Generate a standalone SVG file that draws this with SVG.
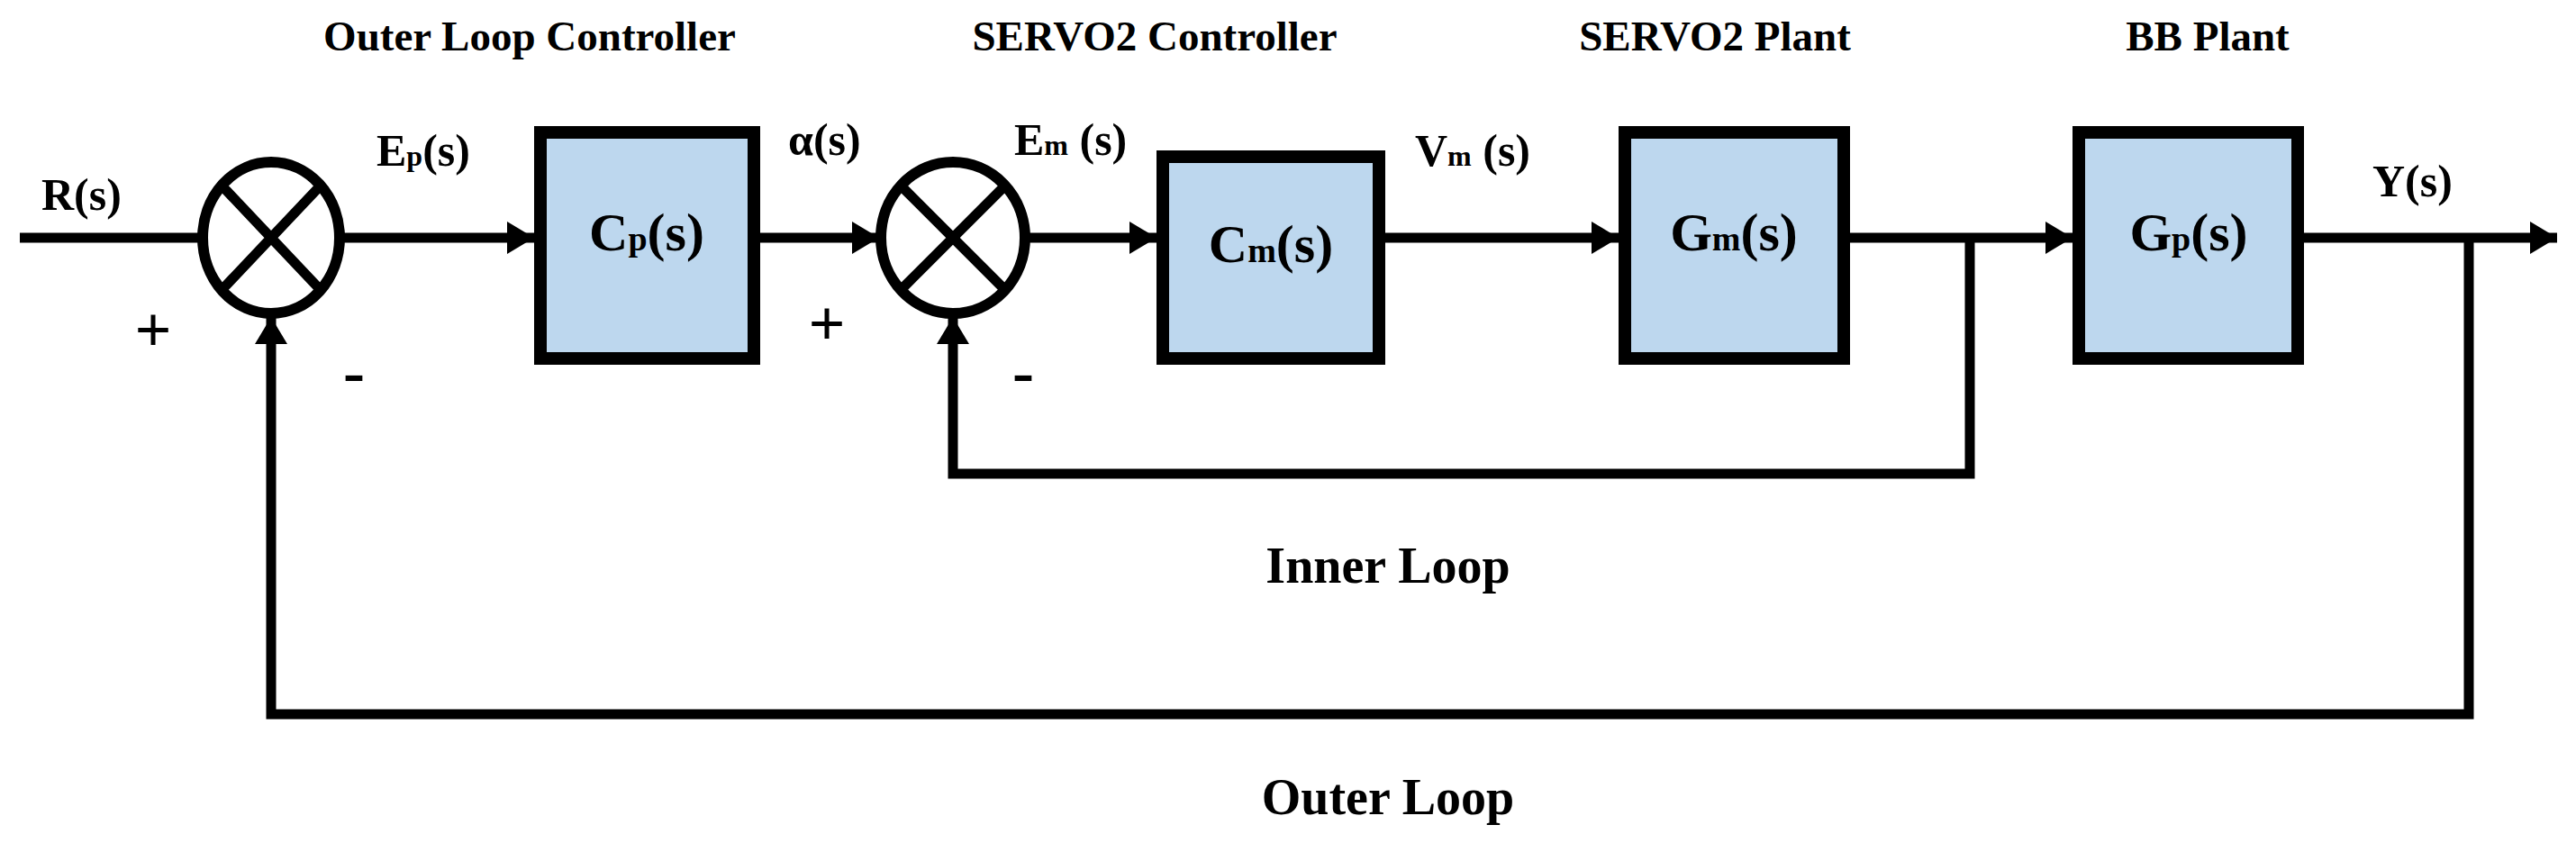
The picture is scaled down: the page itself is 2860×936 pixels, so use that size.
<svg xmlns="http://www.w3.org/2000/svg" width="2860" height="936" viewBox="0 0 2860 936">
<style>
text{font-family:"Liberation Serif","DejaVu Serif",serif;font-weight:bold;fill:#000}
.t{font-size:47px;text-anchor:middle}
.s{font-size:50px}
.b{font-size:60px;text-anchor:middle}
.l{font-size:56px;text-anchor:middle}
.pm{font-size:72px;text-anchor:middle}
.box{fill:#bdd7ee;stroke:#000;stroke-width:14}
.w{fill:none;stroke:#000;stroke-width:11}
.sum{fill:#fff;stroke:#000;stroke-width:12}
</style>
<defs>
<marker id="ah" markerUnits="userSpaceOnUse" markerWidth="30" markerHeight="36" refX="30" refY="18" orient="auto">
<path d="M0,0 L30,18 L0,36 Z" fill="#000"/>
</marker>
</defs>
<g id="connectors">
<path class="w" d="M22,264 H224"/>
<path class="w" d="M379,264 H593" marker-end="url(#ah)"/>
<path class="w" d="M844,264 H976" marker-end="url(#ah)"/>
<path class="w" d="M1140,264 H1284" marker-end="url(#ah)"/>
<path class="w" d="M1538,264 H1797" marker-end="url(#ah)"/>
<path class="w" d="M2054,264 H2301" marker-end="url(#ah)"/>
<path class="w" d="M2558,264 H2839" marker-end="url(#ah)"/>
<path class="w" d="M2187,264 V526 H1058 V352" marker-end="url(#ah)"/>
<path class="w" d="M2741,264 V793 H301 V352" marker-end="url(#ah)"/>
</g>
<g id="sum1"><ellipse class="sum" cx="301" cy="264" rx="76" ry="84"/><path class="w" d="M248,208 L354,320 M354,208 L248,320"/></g>
<g id="sum2"><ellipse class="sum" cx="1058" cy="264" rx="80" ry="84"/><path class="w" d="M1002,208 L1114,320 M1114,208 L1002,320"/></g>
<g id="cp"><rect class="box" x="600" y="147" width="237" height="251"/><text class="b" x="718" y="278">C<tspan font-size="38">p</tspan>(s)</text></g>
<g id="cm"><rect class="box" x="1291" y="174" width="240" height="224"/><text class="b" x="1411" y="291">C<tspan font-size="38">m</tspan>(s)</text></g>
<g id="gm"><rect class="box" x="1804" y="147" width="243" height="251"/><text class="b" x="1925" y="278">G<tspan font-size="38">m</tspan>(s)</text></g>
<g id="gp"><rect class="box" x="2308" y="147" width="243" height="251"/><text class="b" x="2430" y="278">G<tspan font-size="38">p</tspan>(s)</text></g>
<g id="labels">
<text class="t" x="588" y="56">Outer Loop Controller</text>
<text class="t" x="1282" y="56">SERVO2 Controller</text>
<text class="t" x="1904" y="56">SERVO2 Plant</text>
<text class="t" x="2451" y="56">BB Plant</text>
<text class="s" x="46" y="233">R(s)</text>
<text class="s" x="418" y="184">E<tspan font-size="32">p</tspan>(s)</text>
<text class="s" x="875" y="172">α(s)</text>
<text class="s" x="1126" y="172">E<tspan font-size="32">m</tspan> (s)</text>
<text class="s" x="1571" y="184">V<tspan font-size="32">m</tspan> (s)</text>
<text class="s" x="2634" y="218">Y(s)</text>
<text class="pm" x="170" y="390">+</text>
<text class="pm" x="918" y="383">+</text>
<text class="pm" x="393" y="437">-</text>
<text class="pm" x="1136" y="437">-</text>
<text class="l" x="1541" y="647">Inner Loop</text>
<text class="l" x="1541" y="904">Outer Loop</text>
</g>
</svg>
